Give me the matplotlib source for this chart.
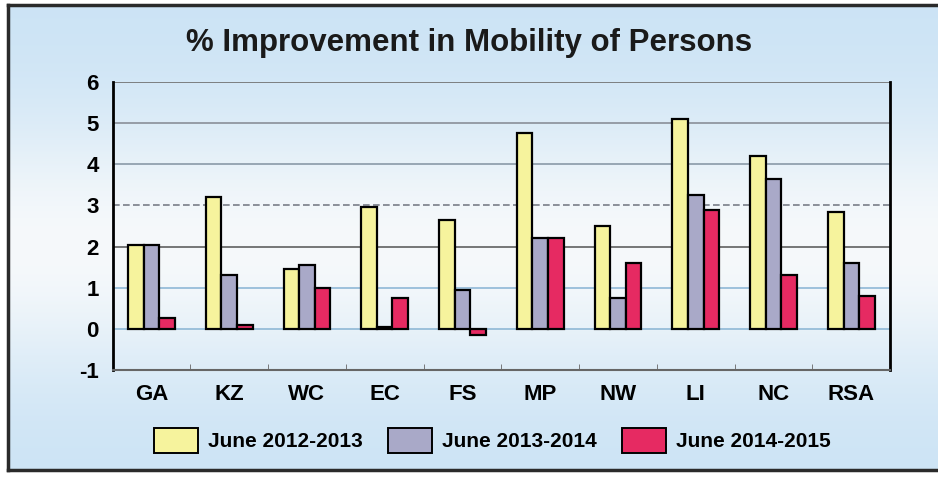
import matplotlib
matplotlib.use("Agg")
import matplotlib.pyplot as plt
import numpy as np
from matplotlib.patches import Patch
from matplotlib.lines import Line2D

categories = ["GA", "KZ", "WC", "EC", "FS", "MP", "NW", "LI", "NC", "RSA"]
series_names = ["June 2012-2013", "June 2013-2014", "June 2014-2015"]
june_2012_2013 = [2.05, 3.2, 1.45, 2.97, 2.65, 4.77, 2.5, 5.1, 4.2, 2.83]
june_2013_2014 = [2.05, 1.3, 1.55, 0.05, 0.95, 2.2, 0.75, 3.25, 3.65, 1.6]
june_2014_2015 = [0.27, 0.1, 1.0, 0.75, -0.15, 2.22, 1.6, 2.9, 1.3, 0.8]
y_ticks = [-1, 0, 1, 2, 3, 4, 5, 6]
title = "% Improvement in Mobility of Persons"

colors = ["#f6f39d", "#a9a9c8", "#e62a62"]
FONT = ["Liberation Sans", "DejaVu Sans"]

fig = plt.figure(figsize=(9.38, 4.83), dpi=100)
fig.patch.set_facecolor("white")

# background gradient
bg = fig.add_axes([0.009, 0.027, 0.991, 0.963], zorder=0)
t = np.linspace(0, 1, 256)
edge = np.array([203, 227, 245]) / 255
mid = np.array([246, 249, 251]) / 255
w = np.exp(-((t - 0.52) / 0.28) ** 2)[:, None]
grad = edge[None, :] * (1 - w) + mid[None, :] * w
grad = np.repeat(grad[:, None, :], 4, axis=1)
bg.imshow(grad, aspect="auto", extent=[0, 1, 0, 1], origin="upper")
bg.set_axis_off()

ax = fig.add_axes([0.120, 0.234, 0.829, 0.596], zorder=1)
ax.patch.set_alpha(0)

x = np.arange(len(categories))
bw = 0.2
offs = [-0.2, 0.0, 0.2]
for vals, off, c in zip([june_2012_2013, june_2013_2014, june_2014_2015], offs, colors):
    ax.bar(x + off, vals, width=bw, color=c, edgecolor="black", linewidth=1.6, zorder=3)

ax.set_xlim(-0.5, len(categories) - 0.5)
ax.set_ylim(-1, 6)

grid_styles = {6: ("#6d6d6d", "-"), 5: ("#8a8f99", "-"), 4: ("#8a9aa8", "-"),
               3: ("#7a7f88", (0, (4, 2))), 2: ("#5f6060", "-"), 1: ("#8fb8d6", "-"),
               0: ("#8fb8d6", "-")}
for yv, (gc, ls) in grid_styles.items():
    ax.axhline(yv, color=gc, linestyle=ls, linewidth=1.2, zorder=1)

ax.set_yticks(y_ticks)
ax.set_yticklabels([str(v) for v in y_ticks], fontsize=16, fontweight="bold", family=FONT)
ax.set_xticks(x)
ax.set_xticklabels(categories, fontsize=16, fontweight="bold", family=FONT)
ax.tick_params(axis="y", length=0, pad=10)
ax.tick_params(axis="x", length=0, pad=10)
ax.set_xticks(np.arange(-0.5, len(categories), 1), minor=True)
ax.tick_params(axis="x", which="minor", length=4, direction="in", color="#666666")

ax.spines["top"].set_visible(False)
ax.spines["left"].set_color("black")
ax.spines["left"].set_linewidth(2)
ax.spines["right"].set_color("black")
ax.spines["right"].set_linewidth(2)
ax.spines["bottom"].set_color("#666666")
ax.spines["bottom"].set_linewidth(1.5)

fig.text(0.50, 0.912, title, ha="center", va="center", fontsize=22.5,
         fontweight="bold", family=FONT, color="#1a1a1a")

handles = [Patch(facecolor=c, edgecolor="black", linewidth=1.4) for c in colors]
leg = fig.legend(handles, series_names, loc="center", bbox_to_anchor=(0.525, 0.088),
                 ncol=3, frameon=False, handlelength=2.1, handleheight=1.5,
                 columnspacing=1.2, handletextpad=0.5,
                 prop={"family": FONT, "weight": "bold", "size": 15})

# scan frame
for (xs, ys) in [([0.009, 0.009], [0.027, 0.99]), ([0.009, 1.0], [0.99, 0.99]),
                 ([0.009, 1.0], [0.027, 0.027])]:
    fig.add_artist(Line2D(xs, ys, color="#2a2a2a", linewidth=2.5, transform=fig.transFigure))

fig.savefig("out.png", dpi=100)
